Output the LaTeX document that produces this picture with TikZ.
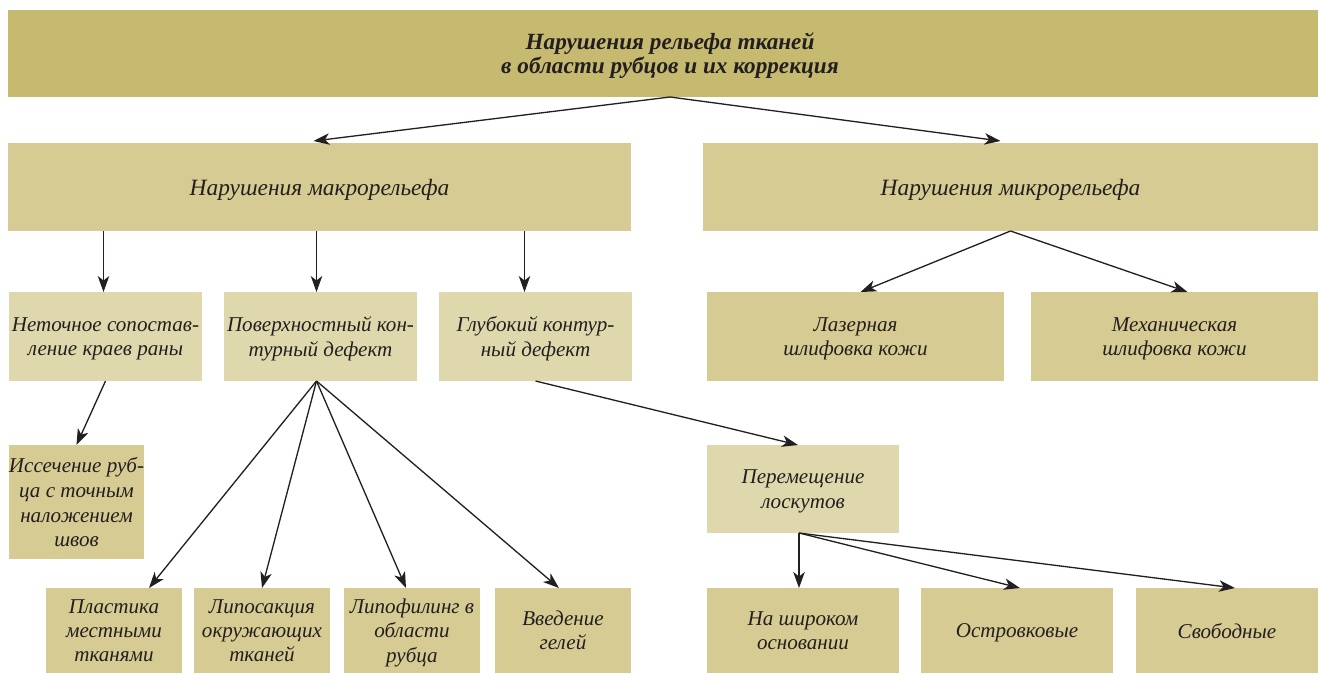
\documentclass[tikz,border=0pt]{standalone}
\usepackage{fontspec}
\setmainfont{Liberation Serif}
\usetikzlibrary{positioning, calc, arrows.meta}
\definecolor{titlefill}{RGB}{198,185,112}
\definecolor{boxfill}{RGB}{214,203,146}
\definecolor{lightfill}{RGB}{224,216,173}
\definecolor{inkcol}{RGB}{35,31,32}

\begin{document}
\begin{tikzpicture}[x=0.02cm, y=-0.02cm,
  box/.style={rectangle, fill=boxfill, inner sep=0pt, outer sep=0pt, align=center, text=inkcol, text depth=-5pt, font=\itshape\fontsize{12}{13.8}\selectfont},
  lightbox/.style={box, fill=lightfill},
  link/.style={draw=inkcol, line width=0.75pt, -{Stealth[length=3.2mm, width=2.3mm, inset=0.9mm]}}]

\useasboundingbox (0,0) rectangle (1319,674);

% Boxes

\node [box, fill=titlefill, minimum width=26.2cm, minimum height=1.74cm, font=\bfseries\itshape\fontsize{13.2}{13.6}\selectfont] (title) at (663,53.5)
{\hspace*{0.28cm}Нарушения рельефа тканей\\\hspace*{0.28cm}в области рубцов и их коррекция};

\node [box, minimum width=12.46cm, minimum height=1.76cm, font=\itshape\fontsize{13.3}{14}\selectfont] (macro) at (319.5,187) {Нарушения макрорельефа};
\node [box, minimum width=12.3cm, minimum height=1.76cm, font=\itshape\fontsize{13.3}{14}\selectfont] (micro) at (1010.5,187) {Нарушения микрорельефа};

\node [lightbox, minimum width=3.86cm, minimum height=1.78cm] (nepr) at (105.5,336.5) {Неточное сопостав-\\ление краев раны};
\node [lightbox, minimum width=3.86cm, minimum height=1.78cm] (pov) at (320.5,336.5) {Поверхностный кон-\\турный дефект};
\node [lightbox, minimum width=3.86cm, minimum height=1.78cm] (glub) at (535.5,336.5) {Глубокий контур-\\ный дефект};
\node [box, minimum width=5.94cm, minimum height=1.78cm] (laser) at (855.5,336.5) {Лазерная\\шлифовка кожи};
\node [box, minimum width=5.74cm, minimum height=1.78cm] (mech) at (1174.5,336.5) {Механическая\\шлифовка кожи};

\node [box, minimum width=2.7cm, minimum height=2.28cm, font=\itshape\fontsize{12}{14.2}\selectfont] (isse) at (76.5,502) {Иссечение руб-\\ца с точным\\наложением\\швов};
\node [lightbox, minimum width=3.84cm, minimum height=1.76cm] (per) at (803,489) {Перемещение\\лоскутов};

\node [box, minimum width=2.72cm, minimum height=1.7cm] (plast) at (114,630.5) {Пластика\\местными\\тканями};
\node [box, minimum width=2.72cm, minimum height=1.7cm] (lipos) at (262,630.5) {Липосакция\\окружающих\\тканей};
\node [box, minimum width=2.72cm, minimum height=1.7cm] (lipof) at (412,630.5) {Липофилинг в\\области\\рубца};
\node [box, minimum width=2.72cm, minimum height=1.7cm] (vved) at (563,630.5) {Введение\\гелей};
\node [box, minimum width=3.84cm, minimum height=1.7cm] (shir) at (803,630.5) {На широком\\основании};
\node [box, minimum width=3.84cm, minimum height=1.7cm] (ostr) at (1017,630.5) {Островковые};
\node [box, minimum width=3.64cm, minimum height=1.7cm] (svob) at (1227,630.5) {Свободные};

% Arrows

\draw[link] ([xshift=0.14cm]title.south) -- ($(macro.north)+(-6,-2)$);
\draw[link] ([xshift=0.14cm]title.south) -- ($(micro.north)+(-10,-2)$);

\draw[link] ([xshift=-0.04cm]nepr.north |- macro.south) -- ([xshift=-0.04cm]nepr.north);
\draw[link] ([xshift=-0.08cm]pov.north |- macro.south) -- ([xshift=-0.08cm]pov.north);
\draw[link] ([xshift=-0.22cm]glub.north |- macro.south) -- ([xshift=-0.22cm]glub.north);

\draw[link] (micro.south) -- ($(laser.north)+(5,0)$);
\draw[link] (micro.south) -- ($(mech.north)+(13,0)$);

\draw[link] (nepr.south) -- (isse.north);

\draw[link] ([xshift=-0.08cm]pov.south) -- ($(plast.north)+(35,0)$);
\draw[link] ([xshift=-0.08cm]pov.south) -- (lipos.north);
\draw[link] ([xshift=-0.08cm]pov.south) -- ($(lipof.north)+(-6,0)$);
\draw[link] ([xshift=-0.08cm]pov.south) -- ($(vved.north)+(-4,0)$);

\draw[link] (glub.south) -- ($(per.north)+(-5,0)$);

\draw[link] ([xshift=-0.08cm]per.south) -- ([xshift=-0.08cm]per.south |- shir.north);
\draw[link] ([xshift=-0.08cm]per.south) -- ($(ostr.north)+(3,0)$);
\draw[link] ([xshift=-0.08cm]per.south) -- ($(svob.north)+(8,0)$);

\end{tikzpicture}
\end{document}
